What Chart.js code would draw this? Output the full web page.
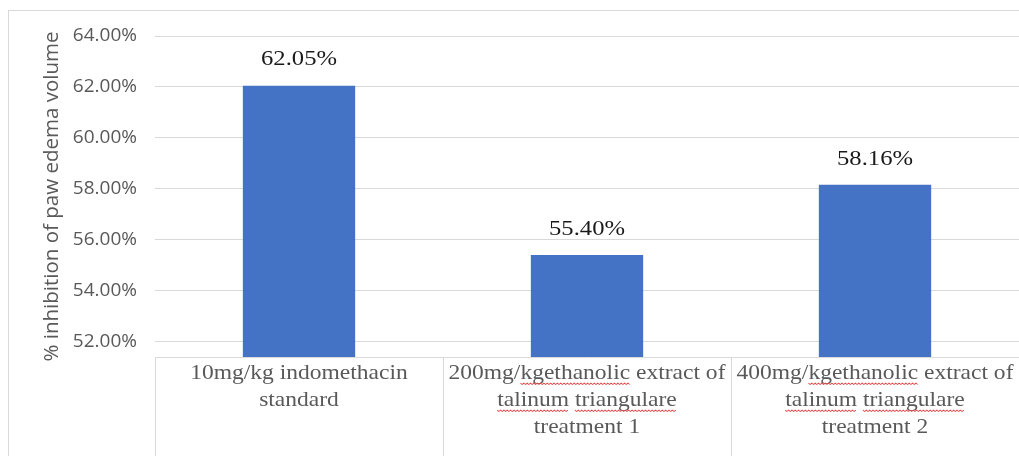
<!DOCTYPE html>
<html>
<head>
<meta charset="utf-8">
<script src="https://cdn.jsdelivr.net/npm/chart.js@4"></script>
<style>
  html, body { margin: 0; padding: 0; background: #fff; overflow: hidden; }
  #wrap { position: relative; width: 1019px; height: 456px; }
  #frame { position: absolute; left: 8px; top: 10px; width: 1100px; height: 600px; border: 1px solid #d9d9d9; box-sizing: border-box; }
  #chart { position: absolute; left: 0; top: 0; }
</style>
</head>
<body>
<div id="wrap">
  <div id="frame"></div>
  <canvas id="chart" width="1019" height="456"></canvas>
</div>
<script>
// groups on the x axis (one line per array entry)
const groups = [
    ['10mg/kg indomethacin', 'standard'],
    ['200mg/kgethanolic extract of', 'talinum triangulare', 'treatment 1'],
    ['400mg/kgethanolic extract of', 'talinum triangulare', 'treatment 2']
];
// % inhibition of paw edema volume
const inhibition = [62.05, 55.40, 58.16];
const yTicks = [52, 54, 56, 58, 60, 62, 64];
// words flagged by the spell checker (group, line, word)
const flagged = [
    [1, 0, 'kgethanolic'], [1, 1, 'talinum'], [1, 1, 'triangulare'],
    [2, 0, 'kgethanolic'], [2, 1, 'talinum'], [2, 1, 'triangulare']
];

const serif = '"Liberation Serif", "Times New Roman", serif';
const sans = '"Open Sans", "Liberation Sans", sans-serif';
const catSize = 21;
const catLine = 27;
const stretch = 1.12; // serif text is drawn slightly wide

// value labels above each bar
const valueLabels = {
    id: 'valueLabels',
    afterDatasetsDraw(chart) {
        const ctx = chart.ctx;
        const meta = chart.getDatasetMeta(0);
        meta.data.forEach((bar, i) => {
            ctx.save();
            ctx.font = '22px ' + serif;
            ctx.fillStyle = '#1a1a1a';
            ctx.textAlign = 'center';
            ctx.textBaseline = 'middle';
            ctx.translate(bar.x, bar.y - 26);
            ctx.scale(stretch, 1);
            ctx.fillText(inhibition[i].toFixed(2) + '%', 0, 0);
            ctx.restore();
        });
    }
};

// table-like category area under the x axis: cell borders, labels, spell-check squiggles
const categoryTable = {
    id: 'categoryTable',
    afterDraw(chart) {
        const ctx = chart.ctx;
        const x = chart.scales.x;
        const half = (x.right - x.left) / (2 * groups.length);
        const top = x.top;
        ctx.save();
        ctx.strokeStyle = '#d9d9d9';
        ctx.lineWidth = 1;
        ctx.beginPath();
        for (let i = 0; i <= groups.length; i++) {
            const bx = Math.round(i < groups.length ? x.getPixelForTick(i) - half : x.right) + 0.5;
            ctx.moveTo(bx, top);
            ctx.lineTo(bx, chart.height);
        }
        ctx.stroke();
        ctx.restore();

        groups.forEach((lines, g) => {
            const cx = x.getPixelForTick(g);
            lines.forEach((line, l) => {
                ctx.save();
                ctx.font = catSize + 'px ' + serif;
                ctx.translate(cx, top + 16 + l * catLine);
                ctx.scale(stretch, 1);
                ctx.fillStyle = '#595959';
                ctx.textAlign = 'center';
                ctx.textBaseline = 'middle';
                ctx.fillText(line, 0, 0);

                // red wavy underline under flagged words on this line
                const lineW = ctx.measureText(line).width;
                ctx.strokeStyle = '#e04848';
                ctx.lineWidth = 0.9;
                flagged.filter(f => f[0] === g && f[1] === l).forEach(([, , word]) => {
                    const start = -lineW / 2 + ctx.measureText(line.slice(0, line.indexOf(word))).width;
                    const w = ctx.measureText(word).width;
                    const y = catSize * 0.48;
                    ctx.beginPath();
                    for (let px = 0; px <= w; px += 1.5) {
                        const yy = y + ((Math.round(px / 1.5) % 2) ? 1.4 : 0);
                        if (px === 0) ctx.moveTo(start + px, yy); else ctx.lineTo(start + px, yy);
                    }
                    ctx.stroke();
                });
                ctx.restore();
            });
        });
    }
};

new Chart(document.getElementById('chart'), {
    type: 'bar',
    data: {
        labels: groups,
        datasets: [{
            data: inhibition,
            backgroundColor: '#4472c4',
            borderWidth: 0,
            categoryPercentage: 1,
            barPercentage: 0.39
        }]
    },
    options: {
        responsive: false,
        animation: false,
        layout: { padding: { left: 40, top: 36, right: 0, bottom: 91 } },
        plugins: { legend: { display: false }, tooltip: { enabled: false } },
        scales: {
            x: {
                offset: true,
                grid: { display: false },
                border: { color: '#d9d9d9' },
                ticks: { display: false }
            },
            y: {
                min: 51.4,
                max: 64,
                afterBuildTicks: s => { s.ticks = yTicks.map(v => ({ value: v })); },
                afterFit: s => { s.width = 115; },
                grid: { color: '#d9d9d9', drawTicks: false },
                border: { display: false },
                ticks: {
                    padding: 18,
                    color: '#595959',
                    font: { family: sans, size: 19 },
                    callback: v => v.toFixed(2) + '%'
                },
                title: {
                    display: true,
                    text: '% inhibition of paw edema volume',
                    color: '#595959',
                    font: { family: sans, size: 20.5 },
                    padding: { top: 0, bottom: 4 }
                }
            }
        }
    },
    plugins: [valueLabels, categoryTable]
});
</script>
</body>
</html>
